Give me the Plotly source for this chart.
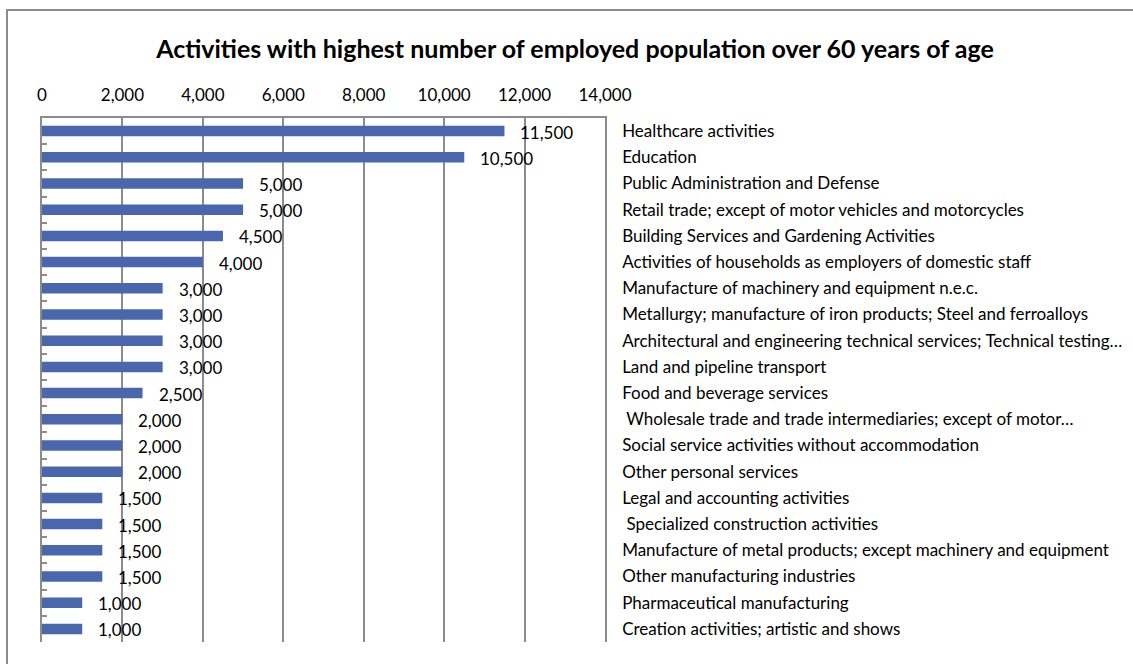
import plotly.graph_objects as go

# Activities, listed top to bottom, with employed people aged 60+
activities = [
    "Healthcare activities",
    "Education",
    "Public Administration and Defense",
    "Retail trade; except of motor vehicles and motorcycles",
    "Building Services and Gardening Activities",
    "Activities of households as employers of domestic staff",
    "Manufacture of machinery and equipment n.e.c.",
    "Metallurgy; manufacture of iron products; Steel and ferroalloys",
    "Architectural and engineering technical services; Technical testing…",
    "Land and pipeline transport",
    "Food and beverage services",
    "\u00a0Wholesale trade and trade intermediaries; except of motor…",
    "Social service activities without accommodation",
    "Other personal services",
    "Legal and accounting activities",
    "\u00a0Specialized construction activities",
    "Manufacture of metal products; except machinery and equipment",
    "Other manufacturing industries",
    "Pharmaceutical manufacturing",
    "Creation activities; artistic and shows",
]
employed = [11500, 10500, 5000, 5000, 4500, 4000, 3000, 3000, 3000, 3000,
            2500, 2000, 2000, 2000, 1500, 1500, 1500, 1500, 1000, 1000]

x_ticks = [0, 2000, 4000, 6000, 8000, 10000, 12000, 14000]

FONT = "Lato"
GRID = "#8c8c8c"
BAR = "#4a66ac"

W, H = 1133, 664
L, R, T, B = 42, 605, 118, 642  # plot area in pixels

fig = go.Figure()
fig.add_trace(go.Bar(
    x=employed, y=activities, orientation="h",
    width=0.4, marker=dict(color=BAR, line=dict(width=0)),
    hoverinfo="x+y", showlegend=False,
))
# carrier trace so the right-hand category axis gets drawn
fig.add_trace(go.Scatter(
    x=employed, y=activities, yaxis="y2", mode="markers",
    marker=dict(opacity=0), hoverinfo="skip", showlegend=False,
))

# value labels just past the end of each bar
for act, val in zip(activities, employed):
    fig.add_annotation(
        x=val, y=act, xref="x", yref="y", text=f"{val:,}",
        showarrow=False, xanchor="left", xshift=14, yshift=-1,
        font=dict(family=FONT, size=17, color="#000000"),
    )

cat_range = [len(activities) - 0.5, -0.5]

fig.update_layout(
    width=W, height=H,
    margin=dict(l=L, r=W - R, t=T, b=H - B, pad=0, autoexpand=False),
    paper_bgcolor="white", plot_bgcolor="white",
    font=dict(family=FONT, size=17, color="#000000"),
    title=dict(
        text="<b>Activities with highest number of employed population over 60 years of age</b>",
        xref="container", yref="container",
        x=575 / W, xanchor="center", y=1 - 49 / H, yanchor="middle",
        font=dict(family=FONT, size=25, color="#000000"),
    ),
    xaxis=dict(
        side="top", range=[0, 14000], tickvals=x_ticks, tickformat=",",
        showgrid=True, gridcolor=GRID, gridwidth=1.5,
        zeroline=False, showline=True, linecolor=GRID, linewidth=1.5,
        ticks="", ticklabelstandoff=8, automargin=False,
        tickfont=dict(family=FONT, size=17),
    ),
    yaxis=dict(
        type="category", categoryorder="array", categoryarray=activities,
        range=cat_range, side="left", automargin=False,
        showgrid=False, zeroline=False, showline=True, linecolor=GRID, linewidth=1.5,
        ticks="inside", ticklen=5, tickcolor=GRID, tickwidth=1.5, tickson="boundaries",
        showticklabels=False,
    ),
    yaxis2=dict(
        type="category", categoryorder="array", categoryarray=activities,
        range=cat_range, overlaying="y", side="right", anchor="x", automargin=False,
        showgrid=False, zeroline=False, showline=True, linecolor=GRID, linewidth=1.5,
        ticks="", ticklabelstandoff=12,
        tickfont=dict(family=FONT, size=17, color="#000000"),
    ),
    bargap=0.6,
)

# outer chart frame
pw, ph = R - L, B - T
fig.add_shape(
    type="rect", xref="paper", yref="paper",
    x0=(7 - L) / pw, x1=(W + 20 - L) / pw,
    y0=(B - (H + 20)) / ph, y1=(B - 10) / ph,
    line=dict(color=GRID, width=2), fillcolor="rgba(0,0,0,0)", layer="below",
)

fig.write_html("out.html")
